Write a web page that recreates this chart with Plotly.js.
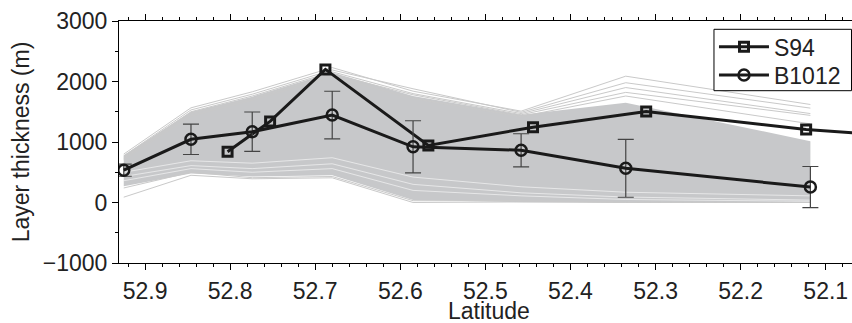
<!DOCTYPE html>
<html><head><meta charset="utf-8">
<script src="https://cdn.plot.ly/plotly-3.0.1.min.js"></script>
<style>html,body{margin:0;padding:0;background:#fff}#chart{width:852px;height:323px}</style>
</head><body><div id="chart"></div>
<script>
// Ensemble (gray) nodes
const ensLat = [52.925, 52.846, 52.774, 52.680, 52.585, 52.458, 52.335, 52.118];
const bandUpper = [780, 1500, 1750, 2150, 1760, 1450, 1650, 1013];
const bandLower = [270, 480, 430, 450, 40, 5, 0, 0];
const ensTop1 = [800, 1565, 1830, 2230, 1840, 1510, 2088, 1620];
const ensTop2 = [770, 1530, 1790, 2190, 1880, 1490, 1980, 1560];
const ensTop3 = [750, 1500, 1760, 2160, 1800, 1470, 1900, 1470];
const ensTop4 = [730, 1470, 1720, 2120, 1780, 1450, 1820, 1440];
const ensTop5 = [710, 1430, 1690, 2080, 1720, 1420, 1760, 1300];
const ensLow1 = [88, 450, 392, 408, 0, 10, 0, 0];
const ensLow2 = [240, 500, 410, 430, 30, 30, 5, 0];
const streak1 = [430, 610, 560, 640, 300, 160, 90, 40];
const streak2 = [500, 690, 650, 740, 420, 260, 170, 110];
const streak3 = [360, 560, 500, 560, 200, 110, 50, 20];

// S94
const s94Lat = [52.803, 52.753, 52.688, 52.567, 52.444, 52.311, 52.123, 52.000];
const s94Val = [840, 1340, 2200, 942, 1245, 1505, 1205, 1085];
// B1012
const b1012Lat = [52.925, 52.846, 52.774, 52.680, 52.585, 52.458, 52.335, 52.118];
const b1012Val = [534, 1045, 1170, 1446, 921, 863, 565, 255];
const b1012Err = [100, 252, 326, 393, 430, 273, 478, 340];

const xTicks = [52.9, 52.8, 52.7, 52.6, 52.5, 52.4, 52.3, 52.2, 52.1];
const yTicks = [-1000, 0, 1000, 2000, 3000];
const xTitle = 'Latitude';
const yTitle = 'Layer thickness (m)';

const gray = '#c7c8ca';
const traces = [];
traces.push({
  x: ensLat.concat(ensLat.slice().reverse()),
  y: bandUpper.concat(bandLower.slice().reverse()),
  type: 'scatter', mode: 'lines', fill: 'toself', fillcolor: gray,
  line: {width: 0, color: gray}, showlegend: false, hoverinfo: 'skip'
});
[ensTop1, ensTop2, ensTop3, ensTop4, ensTop5, ensLow1, ensLow2].forEach(v => {
  traces.push({x: ensLat, y: v, type: 'scatter', mode: 'lines',
    line: {width: 1, color: '#c9c9c9'}, showlegend: false, hoverinfo: 'skip'});
});
[streak1, streak2, streak3].forEach(v => {
  traces.push({x: ensLat, y: v, type: 'scatter', mode: 'lines', opacity: 0.7,
    line: {width: 0.8, color: '#ffffff'}, showlegend: false, hoverinfo: 'skip'});
});
traces.push({
  x: s94Lat, y: s94Val, name: 'S94', type: 'scatter', mode: 'lines+markers',
  legend: 'legend',
  line: {width: 3, color: '#1a1a1a'},
  marker: {symbol: 'square-open', size: 9, color: '#1a1a1a', line: {width: 3, color: '#1a1a1a'}},
  hoverinfo: 'skip'
});
traces.push({
  x: b1012Lat, y: b1012Val, name: 'B1012', type: 'scatter', mode: 'lines+markers',
  legend: 'legend2',
  line: {width: 3, color: '#1a1a1a'},
  marker: {symbol: 'circle-open', size: 11, color: '#1a1a1a', line: {width: 2.5, color: '#1a1a1a'}},
  error_y: {type: 'data', array: b1012Err, visible: true, color: '#444', thickness: 1.2, width: 8},
  hoverinfo: 'skip'
});

const font = {family: '"Liberation Sans", Arial, sans-serif', size: 23, color: '#222'};
const legBase = {x: 0.8117, xanchor: 'left', yanchor: 'middle',
  bgcolor: 'rgba(0,0,0,0)', borderwidth: 0, font: font, itemwidth: 50};
const layout = {
  width: 852, height: 323,
  margin: {l: 119, r: 0, t: 21, b: 60},
  paper_bgcolor: '#fff', plot_bgcolor: '#fff',
  font: font,
  showlegend: true,
  legend: Object.assign({}, legBase, {y: 0.8938}),
  legend2: Object.assign({}, legBase, {y: 0.7769}),
  shapes: [{type: 'rect', xref: 'paper', yref: 'paper',
    x0: 0.8117, x1: 0.9993, y0: 0.712, y1: 0.9657,
    line: {color: '#000', width: 1}, fillcolor: '#fff', layer: 'above'}],
  annotations: [{text: xTitle, xref: 'paper', yref: 'paper', x: 0.505, y: -0.2479,
    xanchor: 'center', yanchor: 'bottom', yshift: -3, showarrow: false, font: font}],
  xaxis: {
    range: [52.9306, 52.0691], autorange: false,
    tickvals: xTicks, ticktext: xTicks.map(v => v.toFixed(1)),
    ticks: 'outside', ticklen: 6, tickwidth: 1, tickcolor: '#000',
    showline: true, linecolor: '#000', linewidth: 1, mirror: 'ticks',
    showgrid: false, zeroline: false,
    minor: {dtick: 0.02, tick0: 52.0, ticks: 'outside', ticklen: 3, tickcolor: '#000', showgrid: false},
    tickfont: font, ticklabelstandoff: 1
  },
  yaxis: {
    range: [-1000, 3000], autorange: false,
    tickvals: yTicks, ticktext: yTicks.map(v => v < 0 ? '\u2212' + Math.abs(v) : String(v)),
    ticks: 'outside', ticklen: 6, tickwidth: 1, tickcolor: '#000',
    showline: true, linecolor: '#000', linewidth: 1,
    showgrid: false, zeroline: false,
    minor: {dtick: 500, tick0: 0, ticks: 'outside', ticklen: 3, tickcolor: '#000', showgrid: false},
    tickfont: font,
    title: {text: yTitle, font: font, standoff: 6}
  }
};
Plotly.newPlot('chart', traces, layout, {displayModeBar: false, staticPlot: true});
</script>
</body></html>
